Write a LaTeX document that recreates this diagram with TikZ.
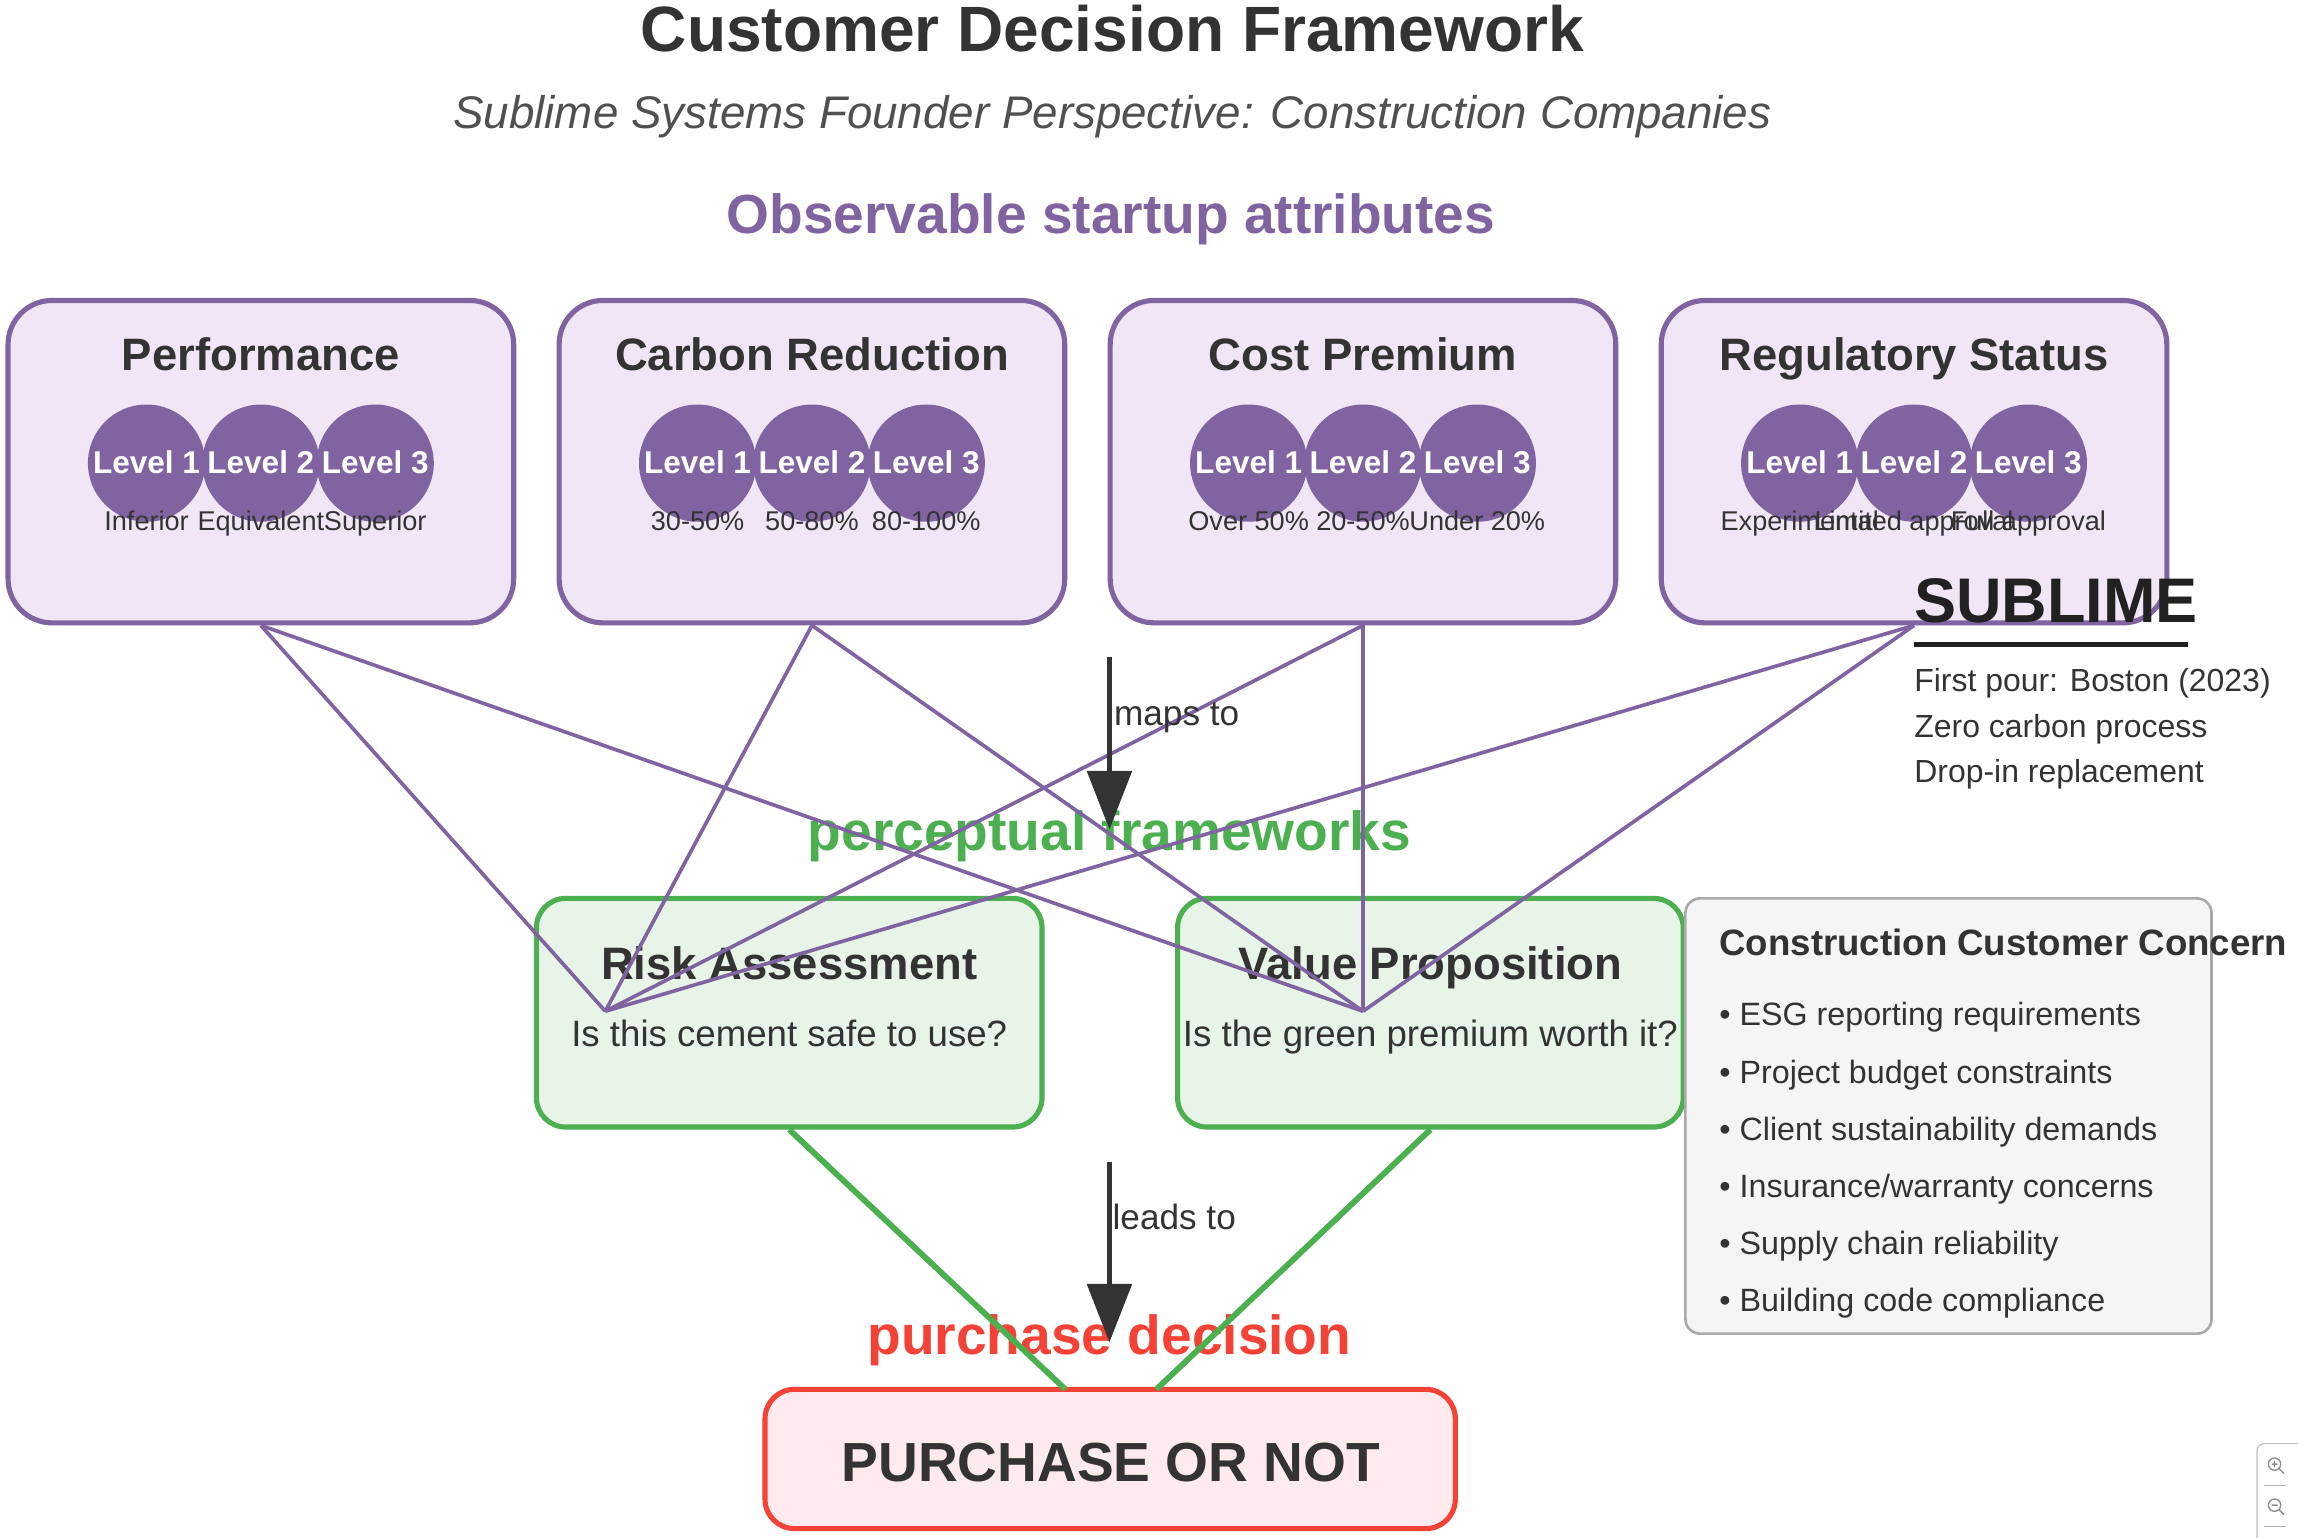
\documentclass[tikz,border=0pt]{standalone}
\usepackage{fontspec}
\setmainfont{Liberation Sans}
\usetikzlibrary{arrows.meta}
\definecolor{purpleC}{HTML}{8064A2}
\definecolor{lavC}{HTML}{F1E6F6}
\definecolor{greenC}{HTML}{4CAF50}
\definecolor{mintC}{HTML}{E7F4E7}
\definecolor{redC}{HTML}{F44336}
\definecolor{pinkC}{HTML}{FFEBEE}
\definecolor{darkC}{HTML}{333333}
\definecolor{subC}{HTML}{505050}
\definecolor{grayfillC}{HTML}{F5F5F5}
\definecolor{grayC}{HTML}{AAAAAA}
\newcommand\myfs[1]{\fontsize{#1}{#1}\selectfont}
\tikzset{
  attrbox/.style={rectangle, rounded corners=30pt, draw=purpleC, line width=3.5pt, fill=lavC, minimum width=345pt, minimum height=220pt, inner sep=0pt},
  lvl/.style={circle, fill=purpleC, minimum size=80pt, inner sep=0pt},
  lvltext/.style={inner sep=0pt, text=white, font=\bfseries\myfs{21.5}},
  lvllab/.style={inner sep=0pt, text=darkC, font=\myfs{18.5}},
  boxtitle/.style={inner sep=0pt, text=darkC, font=\bfseries\myfs{31}},
  heading/.style={inner sep=0pt, font=\bfseries\myfs{37.6}},
  framebox/.style={rectangle, rounded corners=20pt, draw=greenC, line width=3.5pt, fill=mintC, minimum width=345pt, minimum height=156pt, inner sep=0pt},
  question/.style={inner sep=0pt, text=darkC, font=\myfs{25}},
  pline/.style={draw=purpleC, line width=2.5pt},
  gline/.style={draw=greenC, line width=4pt},
  bigarrow/.style={draw=darkC, line width=4pt, -{Triangle[length=40pt,width=30pt]}},
  arrowlab/.style={inner sep=0pt, text=darkC, font=\myfs{24}},
  bullet/.style={inner sep=0pt, text=darkC, font=\myfs{22}, anchor=base west},
  sublab/.style={inner sep=0pt, text=darkC, font=\myfs{21.8}, anchor=base west},
}
\begin{document}
\begin{tikzpicture}[x=1pt,y=-1pt]
\useasboundingbox (0,0) rectangle (1568,1049);
% titles
\node[inner sep=0pt, anchor=base, text=darkC, font=\bfseries\myfs{43.7}] (title) at (759,35) {Customer Decision Framework};
\node[inner sep=0pt, anchor=base, text=subC, font=\itshape\myfs{31.2}] (subtitle) at (759,88) {Sublime Systems Founder Perspective: Construction Companies};
\node[heading, anchor=base, text=purpleC] (obs) at (758,159) {Observable startup attributes};
% attribute boxes
\foreach \n/\cx/\t/\la/\lb/\lc in {perf/178/Performance/Inferior/Equivalent/Superior,
  carb/554/Carbon Reduction/30-50\%/50-80\%/80-100\%,
  cost/930/Cost Premium/Over 50\%/20-50\%/Under 20\%,
  reg/1306/Regulatory Status/Experimental/Limited approval/Full approval}{
  \node[attrbox] (\n) at (\cx,315) {};
  \node[boxtitle, anchor=base] (\n-t) at (\cx,253) {\t};
  \node[lvl] (\n-c1) at (\cx-78,316) {};
  \node[lvl] (\n-c2) at (\cx,316) {};
  \node[lvl] (\n-c3) at (\cx+78,316) {};
  \node[lvltext, anchor=base] (\n-l1) at (\cx-78,323) {Level 1};
  \node[lvltext, anchor=base] (\n-l2) at (\cx,323) {Level 2};
  \node[lvltext, anchor=base] (\n-l3) at (\cx+78,323) {Level 3};
  \node[lvllab, anchor=base] (\n-a) at (\cx-78,362) {\la};
  \node[lvllab, anchor=base] (\n-b) at (\cx,362) {\lb};
  \node[lvllab, anchor=base] (\n-d) at (\cx+78,362) {\lc};
}
% perceptual frameworks
\node[heading, anchor=base, text=greenC] (perc) at (757,580) {perceptual frameworks};
\node[framebox] (risk) at (538.5,691) {};
\node[boxtitle, anchor=base] (risk-t) at (538.5,668) {Risk Assessment};
\node[question, anchor=base] (risk-q) at (538.5,714) {Is this cement safe to use?};
\node[framebox] (value) at (976,691) {};
\node[boxtitle, anchor=base] (value-t) at (976,668) {Value Proposition};
\node[question, anchor=base] (value-q) at (976,714) {Is the green premium worth it?};
% concerns box
\node[rectangle, rounded corners=10pt, draw=grayC, line width=1.8pt, fill=grayfillC, minimum width=359pt, minimum height=297pt, inner sep=0pt] (concern) at (1329.5,761.5) {};
\node[inner sep=0pt, anchor=base west, text=darkC, font=\bfseries\myfs{25}] (concern-t) at (1173,652) {Construction Customer Concern};
\node[bullet] (b1) at (1173,700) {• ESG reporting requirements};
\node[bullet] (b2) at (1173,739) {• Project budget constraints};
\node[bullet] (b3) at (1173,778) {• Client sustainability demands};
\node[bullet] (b4) at (1173,817) {• Insurance/warranty concerns};
\node[bullet] (b5) at (1173,856) {• Supply chain reliability};
\node[bullet] (b6) at (1173,895) {• Building code compliance};
% purchase decision
\node[heading, anchor=base, text=redC] (pdec) at (757,924) {purchase decision};
\node[rectangle, rounded corners=20pt, draw=redC, line width=3.5pt, fill=pinkC, minimum width=471pt, minimum height=95pt, inner sep=0pt] (purch) at (757.5,995.5) {};
\node[inner sep=0pt, anchor=base, text=darkC, font=\bfseries\myfs{37.6}] (purch-t) at (758,1011) {PURCHASE OR NOT};
% connectors
\coordinate (riskin) at (413,690);
\coordinate (valin) at (930,690);
\coordinate (pa) at (727,948);
\coordinate (pb) at (789,948);
\foreach \n in {perf,carb,cost,reg}{
  \draw[pline] (\n.south) -- (riskin);
  \draw[pline] (\n.south) -- (valin);
}
\draw[gline] (risk.south) -- (pa);
\draw[gline] (value.south) -- (pb);
\coordinate (m1) at (757,448);
\coordinate (m2) at (757,566);
\draw[bigarrow] (m1) -- (m2);
\node[arrowlab, anchor=base west] (mapsto) at (760,495) {maps to};
\coordinate (l1) at (757,793);
\coordinate (l2) at (757,916);
\draw[bigarrow] (l1) -- (l2);
\node[arrowlab, anchor=base west] (leadsto) at (759,839) {leads to};
% SUBLIME logo
\node[inner sep=0pt, anchor=base west, text=black!87, font=\bfseries\myfs{43}] (sub) at (1306,425) {SUBLIME};
\coordinate (u1) at (1306,440);
\coordinate (u2) at (1493,440);
\draw[draw=black!87, line width=3.5pt] (u1) -- (u2);
\node[sublab] (s1) at (1306,472) {First pour: Boston (2023)};
\node[sublab] (s2) at (1306,503) {Zero carbon process};
\node[sublab] (s3) at (1306,534) {Drop-in replacement};
% zoom control
\draw[draw=gray!50, line width=0.8pt, rounded corners=5pt, fill=white] (1540,985) rectangle (1580,1060);
\draw[gray!90, line width=0.9pt] (1552,999) circle (4.2) (1555,1002) -- (1558.5,1005.5) (1550,999) -- (1554,999) (1552,997) -- (1552,1001);
\draw[gray!60, line width=0.7pt] (1545,1013.5) -- (1560,1013.5);
\draw[gray!90, line width=0.9pt] (1552,1027) circle (4.2) (1555,1030) -- (1558.5,1033.5) (1550,1027) -- (1554,1027);
\draw[gray!60, line width=0.7pt] (1545,1041.5) -- (1560,1041.5);
\end{tikzpicture}
\end{document}
